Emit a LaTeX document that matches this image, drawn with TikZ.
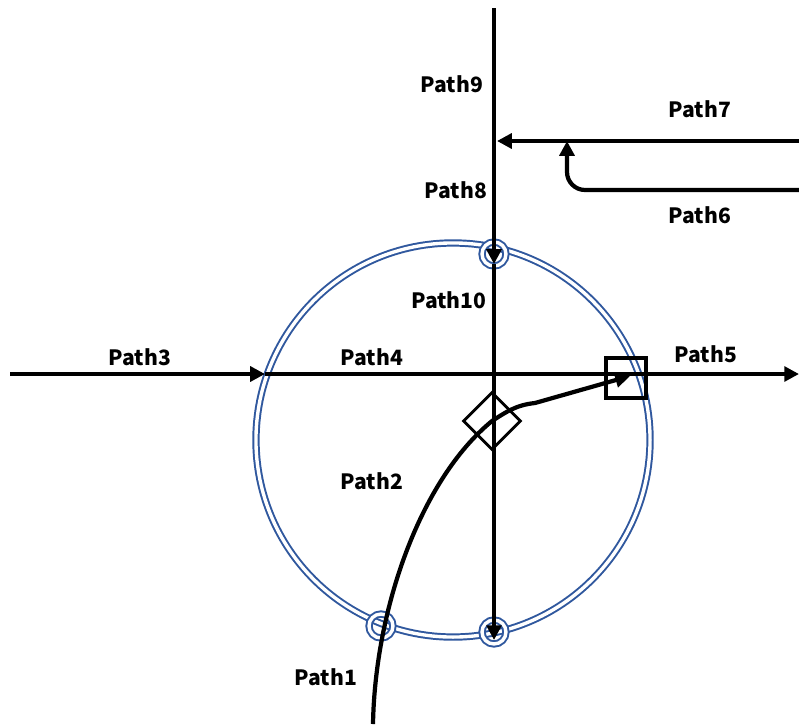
\documentclass[tikz,border=0pt]{standalone}
\usepackage{fontspec}
\setmainfont{Noto Sans CJK JP}
\usetikzlibrary{arrows.meta,shapes.geometric}
\definecolor{ringblue}{RGB}{48,88,158}

\begin{document}
\begin{tikzpicture}[x=0.025cm,y=-0.025cm,
ln/.style = {% black path lines
    line width=3pt, -{Triangle[length=10.5pt,width=10.5pt]},
            },
pl/.style = {% path labels
    font=\bfseries\fontsize{15}{15}\selectfont, inner sep=0pt,
            },
ring/.style = {% blue double rings
    draw=ringblue, double=white, line width=1.4pt, double distance=2.4pt,
            },
dot/.style = {% small rings on the big one
    ring, circle, inner sep=0pt, minimum size=0.6cm,
            },                        ]

  \useasboundingbox (0,0) rectangle (799,724);

  % big ring and its marks
  \draw[ring] (453,440) circle[radius=4.925cm];
  \node[dot] (top) at (494,254) {};
  \node[dot] (bot) at (494,632) {};
  \node[dot] (low) at (381,626) {};

  % free ends
  \coordinate (v0) at (494,8);
  \coordinate (h0) at (10,374);
  \coordinate (h1) at (265,374);
  \coordinate (h2) at (799,374);
  \coordinate (r7) at (799,141);
  \coordinate (j7) at (497,141);
  \coordinate (r6) at (799,190);
  \coordinate (k6) at (567,190);
  \coordinate (j6) at (567,141);
  \coordinate (c0) at (373,724);
  \coordinate (c1) at (535,403);

  % boxes on the paths
  \node[draw, line width=2.4pt, minimum size=1cm, inner sep=0pt] (box) at (626,378) {};
  \node[draw, diamond, line width=2pt, minimum size=1.45cm, inner sep=0pt]
       (dia) at (492,421) {};

  % vertical path
  \draw[ln] (v0) -- ([yshift=-0.25cm]top.center);
  \draw[ln] ([yshift=-0.25cm]top.center) -- ([yshift=-0.2cm]bot.center);

  % horizontal path
  \draw[ln] (h0) -- (h1);
  \draw[ln] (h1) -- (h2);

  % upper right paths
  \draw[ln] (r7) -- (j7);
  \draw[ln, rounded corners=0.45cm] (r6) -- (k6) -- (j6);

  % curved path
  \draw[ln] (c0) .. controls (375,610) and (420,480) .. (dia.center)
                 .. controls (506,412) and (516,405) .. (c1)
                 -- ([shift={(0.1cm,0.05cm)}]box.center);

  % labels
  \node[pl] (l9)  at (452,84)  {Path9};
  \node[pl] (l7)  at (700,109) {Path7};
  \node[pl] (l8)  at (456,190) {Path8};
  \node[pl] (l6)  at (700,215) {Path6};
  \node[pl] (l10) at (449,300) {Path10};
  \node[pl] (l3)  at (140,357) {Path3};
  \node[pl] (l4)  at (372,357) {Path4};
  \node[pl] (l5)  at (706,354) {Path5};
  \node[pl] (l2)  at (372,481) {Path2};
  \node[pl] (l1)  at (326,677) {Path1};

\end{tikzpicture}
\end{document}
